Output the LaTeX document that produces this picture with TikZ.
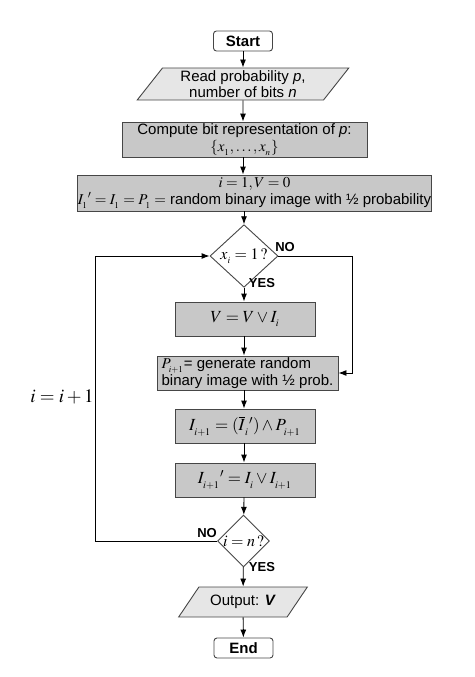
\documentclass[tikz,border=0pt]{standalone}
\usepackage{mathptmx}
\usepackage{fontspec}
\setmainfont{Liberation Sans}
\usetikzlibrary{shapes.geometric,arrows.meta,calc}
\definecolor{boxgray}{RGB}{200,200,200}
\definecolor{iogray}{RGB}{230,230,230}
\definecolor{edge}{RGB}{70,70,70}

\begin{document}
\begin{tikzpicture}[x=1pt,y=-1pt,line width=0.9pt,draw=edge,
  every node/.style={font=\fontsize{15}{16}\selectfont},
  term/.style={draw=edge,rounded corners=3pt,minimum width=59,minimum height=20,inner sep=0,font=\fontsize{15}{16}\selectfont\bfseries},
  io/.style={trapezium,trapezium stretches=true,draw=edge,fill=iogray,inner sep=0,align=center},
  proc/.style={draw=edge,fill=boxgray,inner sep=0,align=center},
  mathbox/.style={proc,font=\fontsize{17}{18}\selectfont},
  decide/.style={diamond,draw=edge,fill=white,inner sep=0,font=\fontsize{16}{16}\selectfont},
  lbl/.style={font=\fontsize{13}{13}\selectfont\bfseries},
  arr/.style={draw=black,-{Latex[length=8pt,width=6pt]}}]
\useasboundingbox (0,0) rectangle (474,677);
\node[term] (start) at (243,41) {Start};
\node[io,trapezium left angle=54,trapezium right angle=126,minimum width=212,minimum height=32] (read) at (243,84) {Read probability \textit{p},\\number of bits \textit{n}};
\node[proc,minimum width=245,minimum height=35] (bits) at (244.5,139.5) {Compute bit representation of \textit{p}:\\[1pt]$\{x_{_1},\ldots,x_{_n}\}$};
\node[proc,minimum width=333,minimum height=36] (init) at (254.5,193) {$i=1,V=0$\\[1pt]$I_{_1}{}'=I_{_1}=P_{_1}=$ random binary image with ½ probability};
\node[decide,minimum width=68,minimum height=50] (xi) at (244,256) {$x_{_i}=1\,?$};
\node[mathbox,minimum width=140,minimum height=34] (orV) at (245,319) {$V=V\vee I_{_i}$};
\node[proc,minimum width=181,minimum height=34,align=left] (newP) at (247.5,373) {$P_{_{i+1}}$= generate random\\binary image with ½ prob.};
\node[mathbox,minimum width=140,minimum height=34] (andI) at (245,426) {$I_{_{i+1}}=(\overline{I}_{_i}{}')\wedge P_{_{i+1}}$};
\node[mathbox,minimum width=140,minimum height=34] (orI) at (245,480) {$I_{_{i+1}}{}'=I_{_i}\vee I_{_{i+1}}$};
\node[decide,minimum width=51,minimum height=52] (last) at (243.5,541) {$i=n\,?$};
\node[io,trapezium left angle=42,trapezium right angle=138,minimum width=129,minimum height=30] (out) at (243,602) {Output: \textbf{\textit{V}}};
\node[term] (end) at (243.5,648) {End};
\coordinate (loopL) at (95,541);
\coordinate (loopR) at (352,256);
\node[font=\fontsize{19}{19}\selectfont] (incr) at (62,397) {$i=i+1$};
\node[lbl] (noA) at (285,247) {NO};
\node[lbl] (yesA) at (262,283) {YES};
\node[lbl] (noB) at (207,533) {NO};
\node[lbl] (yesB) at (262,567) {YES};
% main column
\draw[arr] (start) -- (read);
\draw[arr] (read) -- (read |- bits.north);
\draw[arr] (bits.south -| read) -- (read |- init.north);
\draw[arr] (init.south -| xi) -- (xi);
\draw[arr] (xi) -- (xi |- orV.north);
\draw[arr] (orV.south -| xi) -- (xi |- newP.north);
\draw[arr] (newP.south -| xi) -- (xi |- andI.north);
\draw[arr] (andI.south -| xi) -- (xi |- orI.north);
\draw[arr] (orI.south -| xi) -- (last);
\draw[arr] (last) -- (out);
\draw[arr] (out) -- (end);
% branches
\draw[arr] (xi.east) -- (loopR) |- (newP.east);
\draw[arr] (last.west) -- (loopL) |- (xi.west);
\end{tikzpicture}
\end{document}
